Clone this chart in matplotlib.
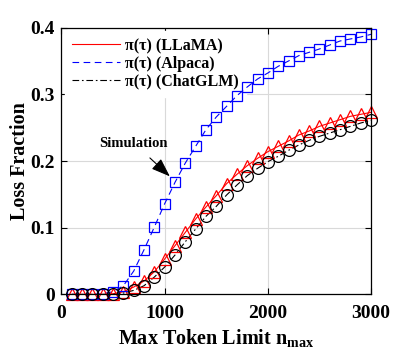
import matplotlib
matplotlib.use("Agg")
import matplotlib.pyplot as plt

plt.rcParams["font.family"] = ["Liberation Serif", "DejaVu Serif"]
plt.rcParams["font.weight"] = "bold"
plt.rcParams["mathtext.fontset"] = "custom"
plt.rcParams["mathtext.rm"] = "Liberation Serif:bold"
plt.rcParams["mathtext.bf"] = "Liberation Serif:bold"

# ── Data ───────────────────────────────────────────────────────────────────────
n_max = [100, 200, 300, 400, 500, 600, 700, 800, 900, 1000,
         1100, 1200, 1300, 1400, 1500, 1600, 1700, 1800, 1900, 2000,
         2100, 2200, 2300, 2400, 2500, 2600, 2700, 2800, 2900, 3000]

llama = [0.0, 0.0, 0.0, 0.0, 0.001, 0.004, 0.011, 0.020, 0.034, 0.053,
         0.073, 0.093, 0.113, 0.131, 0.148, 0.166, 0.180, 0.193, 0.204, 0.214,
         0.222, 0.230, 0.239, 0.245, 0.252, 0.257, 0.262, 0.267, 0.270, 0.273]

alpaca = [0.0, 0.0, 0.0, 0.001, 0.004, 0.013, 0.035, 0.067, 0.101, 0.136,
          0.168, 0.197, 0.222, 0.247, 0.266, 0.282, 0.298, 0.311, 0.323, 0.332,
          0.342, 0.350, 0.358, 0.363, 0.368, 0.374, 0.380, 0.383, 0.386, 0.390]

chatglm = [0.0, 0.0, 0.0, 0.0, 0.0, 0.002, 0.006, 0.013, 0.026, 0.041,
           0.059, 0.079, 0.098, 0.117, 0.132, 0.149, 0.164, 0.178, 0.189, 0.199,
           0.207, 0.216, 0.224, 0.231, 0.237, 0.242, 0.247, 0.252, 0.257, 0.261]

x_ticks = [0, 1000, 2000, 3000]
y_ticks = [0, 0.1, 0.2, 0.3, 0.4]
y_ticklabels = ["0", "0.1", "0.2", "0.3", "0.4"]

fig = plt.figure(figsize=(4.1, 3.59), dpi=100)
ax = fig.add_axes([0.150, 0.180, 0.755, 0.743])

# analytical curves
ax.plot(n_max, llama, "-", color="red", lw=0.8, label="π(τ) (LLaMA)")
ax.plot(n_max, alpaca, "--", color="blue", lw=0.8, dashes=(6, 4), label="π(τ) (Alpaca)")
ax.plot(n_max, chatglm, "-.", color="black", lw=0.8, dashes=(6, 2.5, 1.5, 2.5), label="π(τ) (ChatGLM)")

# simulation markers
ax.plot(n_max, llama, "^", mfc="none", mec="red", ms=8.5, mew=0.9, clip_on=False)
ax.plot(n_max, alpaca, "s", mfc="none", mec="blue", ms=7.5, mew=0.9, clip_on=False)
ax.plot(n_max, chatglm, "o", mfc="none", mec="black", ms=8.5, mew=0.9, clip_on=False)

ax.set_xlim(0, 3000)
ax.set_ylim(0, 0.4)
ax.set_xticks(x_ticks)
ax.set_yticks(y_ticks)
ax.set_yticklabels(y_ticklabels)
ax.tick_params(direction="in", top=True, right=True, labelsize=14, length=4, width=0.8)
ax.tick_params(axis="x", pad=8)
ax.tick_params(axis="y", pad=5)
ax.grid(True, color="#d9d9d9", lw=0.8)
ax.set_axisbelow(True)
for s in ax.spines.values():
    s.set_linewidth(0.9)

ax.set_xlabel(r"Max Token Limit n$_{\mathrm{max}}$", fontsize=14.5, fontweight="bold", labelpad=4)
ax.set_ylabel("Loss Fraction", fontsize=14.5, fontweight="bold", labelpad=0)

leg = ax.legend(loc="upper left", frameon=True, fancybox=False,
                edgecolor="white", framealpha=1, borderaxespad=0.2,
                handlelength=3.0, handletextpad=0.3, labelspacing=0.12,
                borderpad=0.45, prop={"weight": "bold", "size": 11.5})
leg.set_zorder(1.5)

ax.annotate("Simulation", xy=(1050, 0.177), xytext=(700, 0.227),
            ha="center", va="center", fontsize=10.5, fontweight="bold",
            arrowprops=dict(arrowstyle="-|>,head_length=1.1,head_width=0.4",
                            color="black", lw=0.8, shrinkA=6, shrinkB=0))

fig.savefig("out.png", dpi=100)
